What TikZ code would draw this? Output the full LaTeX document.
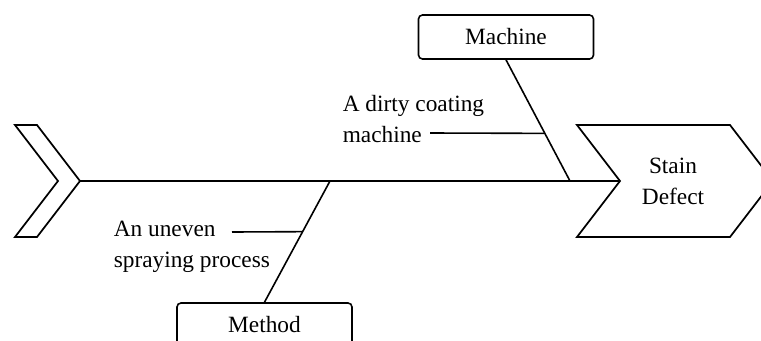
\documentclass[tikz,border=0pt]{standalone}
\usepackage{fontspec}
\setmainfont{Liberation Serif}
\usetikzlibrary{calc}
\begin{document}
\begin{tikzpicture}[x=0.75pt,y=-0.75pt,
  line width=1.2pt, line join=miter,
  every node/.style={font=\fontsize{17.5}{23}\selectfont},
  catbox/.style={draw, rounded corners=3pt, minimum width=131.25pt,
    minimum height=33pt, inner sep=0pt},
  fishbone/.style={draw, line width=1.3pt},
  bone/.style={line width=1.2pt},
  label/.style={align=left, inner sep=0pt, anchor=north west}]
  % canvas
  \fill[white] (0,0) rectangle (761,340);
  \useasboundingbox (0,0) rectangle (761,340);
  \clip (0,0) rectangle (761,340);

  % tail of the fish
  \draw[fishbone] (15,125) -- (37,125) -- (80,181) -- (37,237) -- (15,237) -- (58,181) -- cycle;
  \coordinate (tail) at (80,181);

  % head of the fish with the effect
  \draw[fishbone] (577,125) -- (730,125) -- (773,181) -- (730,237) -- (577,237) -- (620,181) -- cycle;
  \coordinate (head) at (620,181);
  \node[align=center, inner sep=0pt] (effect) at (673,181.5) {Stain\\Defect};

  % spine
  \draw[bone] (tail) -- (head);

  % category boxes
  \node[catbox] (machine) at (506,37) {Machine};
  \node[catbox] (method) at (264.5,325) {Method};

  % ribs
  \coordinate (mjoin) at (570,181);
  \coordinate (tjoin) at (330,181);
  \draw[bone] (machine.south) -- (mjoin);
  \draw[bone] (method.north) -- (tjoin);

  % causes
  \node[label] (c1) at (342,94.5) {A dirty coating\\machine};
  \coordinate (c1end) at (430,133);
  \draw[bone] (c1end) -- ($(machine.south)!0.607!(mjoin)$);

  \node[label] (c2) at (113,220.5) {An uneven\\spraying process};
  \coordinate (c2end) at (232,232);
  \draw[bone] (c2end) -- ($(method.north)!0.582!(tjoin)$);
\end{tikzpicture}
\end{document}
